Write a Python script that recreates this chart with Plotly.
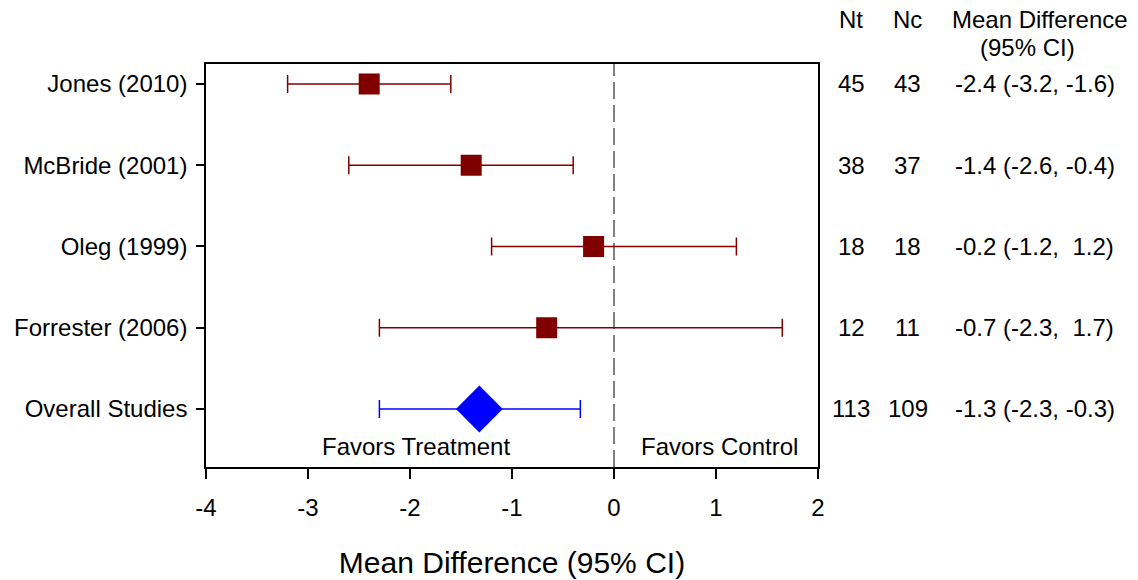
import plotly.graph_objects as go

studies = ["Jones (2010)", "McBride (2001)", "Oleg (1999)", "Forrester (2006)", "Overall Studies"]
rows = [1, 2, 3, 4, 5]
estimate = [-2.4, -1.4, -0.2, -0.66, -1.32]
lower = [-3.2, -2.6, -1.2, -2.3, -2.3]
upper = [-1.6, -0.4, 1.2, 1.65, -0.33]
nt = ["45", "38", "18", "12", "113"]
nc = ["43", "37", "18", "11", "109"]
md_text = ["-2.4 (-3.2, -1.6)", "-1.4 (-2.6, -0.4)", "-0.2 (-1.2,  1.2)",
           "-0.7 (-2.3,  1.7)", "-1.3 (-2.3, -0.3)"]
x_ticks = [-4, -3, -2, -1, 0, 1, 2]

FONT = "Arial, Liberation Sans, sans-serif"
RED = "#800000"
BLUE = "#0000FF"

fig = go.Figure()

n_study = 4
fig.add_trace(go.Scatter(
    x=estimate[:n_study], y=rows[:n_study], mode="markers",
    marker=dict(symbol="square", size=21, color=RED),
    error_x=dict(type="data", symmetric=False,
                 array=[u - e for u, e in zip(upper[:n_study], estimate[:n_study])],
                 arrayminus=[e - l for e, l in zip(estimate[:n_study], lower[:n_study])],
                 color=RED, thickness=1.5, width=9),
    showlegend=False, hoverinfo="skip"))

fig.add_trace(go.Scatter(
    x=estimate[n_study:], y=rows[n_study:], mode="markers",
    marker=dict(symbol="diamond", size=36, color=BLUE),
    error_x=dict(type="data", symmetric=False,
                 array=[u - e for u, e in zip(upper[n_study:], estimate[n_study:])],
                 arrayminus=[e - l for e, l in zip(estimate[n_study:], lower[n_study:])],
                 color=BLUE, thickness=1.5, width=9),
    showlegend=False, hoverinfo="skip"))

# Reference line at zero
fig.add_shape(type="line", x0=0, x1=0, y0=0, y1=1, xref="x", yref="paper",
              line=dict(color="#808080", width=2, dash="17px,6px"), layer="below")

annotations = []
col_nt, col_nc, col_md = 1.054, 1.147, 1.354
for r, a, b, t in zip(rows, nt, nc, md_text):
    annotations.append(dict(x=col_nt, y=r, xref="paper", yref="y", text=a, showarrow=False,
                            xanchor="center", yanchor="middle"))
    annotations.append(dict(x=col_nc, y=r, xref="paper", yref="y", text=b, showarrow=False,
                            xanchor="center", yanchor="middle"))
    annotations.append(dict(x=col_md, y=r, xref="paper", yref="y", text=t, showarrow=False,
                            xanchor="center", yanchor="middle"))

annotations += [
    dict(x=col_nt, y=1.111, xref="paper", yref="paper", text="Nt", showarrow=False,
         xanchor="center", yanchor="middle"),
    dict(x=col_nc, y=1.111, xref="paper", yref="paper", text="Nc", showarrow=False,
         xanchor="center", yanchor="middle"),
    dict(x=1.362, y=1.111, xref="paper", yref="paper", text="Mean Difference", showarrow=False,
         xanchor="center", yanchor="middle"),
    dict(x=1.342, y=1.040, xref="paper", yref="paper", text="(95% CI)", showarrow=False,
         xanchor="center", yanchor="middle"),
    dict(x=-1.94, y=0.05, xref="x", yref="paper", text="Favors Treatment", showarrow=False,
         xanchor="center", yanchor="middle"),
    dict(x=1.03, y=0.05, xref="x", yref="paper", text="Favors Control", showarrow=False,
         xanchor="center", yanchor="middle"),
]

fig.update_layout(
    width=1138, height=580,
    margin=dict(l=206, r=320, t=64, b=113),
    plot_bgcolor="white", paper_bgcolor="white",
    font=dict(family=FONT, size=24, color="black"),
    annotations=annotations,
    xaxis=dict(range=[-4, 2], tickvals=x_ticks, ticktext=[str(v) for v in x_ticks],
               showgrid=False, zeroline=False, showline=True, linecolor="black", linewidth=1.5,
               mirror=True, ticks="outside", ticklen=10, tickwidth=1.5, tickcolor="black",
               ticklabelstandoff=8, automargin=False,
               title=dict(text="Mean Difference (95% CI)", font=dict(size=30), standoff=32)),
    yaxis=dict(range=[5.714, 0.754], tickvals=rows, ticktext=studies,
               showgrid=False, zeroline=False, showline=True, linecolor="black", linewidth=1.5,
               mirror=True, ticks="outside", ticklen=8, tickwidth=1.5, tickcolor="black",
               ticklabelstandoff=4, automargin=False),
)

fig.write_html("out.html")
